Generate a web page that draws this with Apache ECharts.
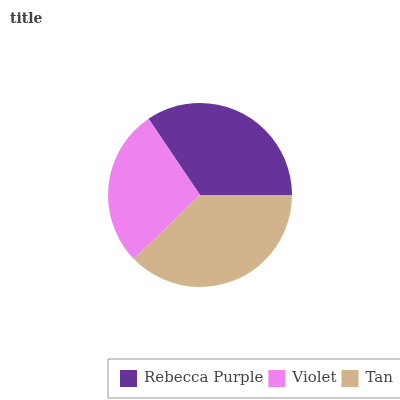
<!DOCTYPE html>
<html>
<head>
<meta charset="utf-8">
<script src="https://cdn.jsdelivr.net/npm/echarts@6/dist/echarts.min.js"></script>
<style>
  html, body { margin: 0; padding: 0; background: #fff; }
  #chart { width: 400px; height: 400px; }
</style>
</head>
<body>
<div id="chart"></div>
<script>
// data
const names = ['Rebecca Purple', 'Violet', 'Tan'];
const values = [31, 25, 34];
const colors = ['#663399', '#EE82EE', '#D2B48C'];

const chart = echarts.init(document.getElementById('chart'));
chart.setOption({
  animation: false,
  title: {
    text: 'title',
    left: 5,
    top: 7,
    textStyle: { fontFamily: 'DejaVu Serif', fontSize: 14, fontWeight: 'bold', color: '#444' }
  },
  legend: {
    left: 108,
    top: 359,
    width: 400,
    orient: 'horizontal',
    padding: [11, 12],
    itemGap: 5,
    itemWidth: 17,
    itemHeight: 17,
    borderColor: '#999',
    borderWidth: 1,
    icon: 'rect',
    textStyle: { fontFamily: 'DejaVu Serif', fontSize: 15, color: '#444', padding: [0, 0, 0, 2] },
    data: names
  },
  series: [{
    type: 'pie',
    center: [200, 195],
    radius: 92,
    startAngle: 0,
    clockwise: false,
    label: { show: false },
    labelLine: { show: false },
    itemStyle: { borderWidth: 0 },
    data: names.map((n, i) => ({ name: n, value: values[i], itemStyle: { color: colors[i] } }))
  }]
});
</script>
</body>
</html>
